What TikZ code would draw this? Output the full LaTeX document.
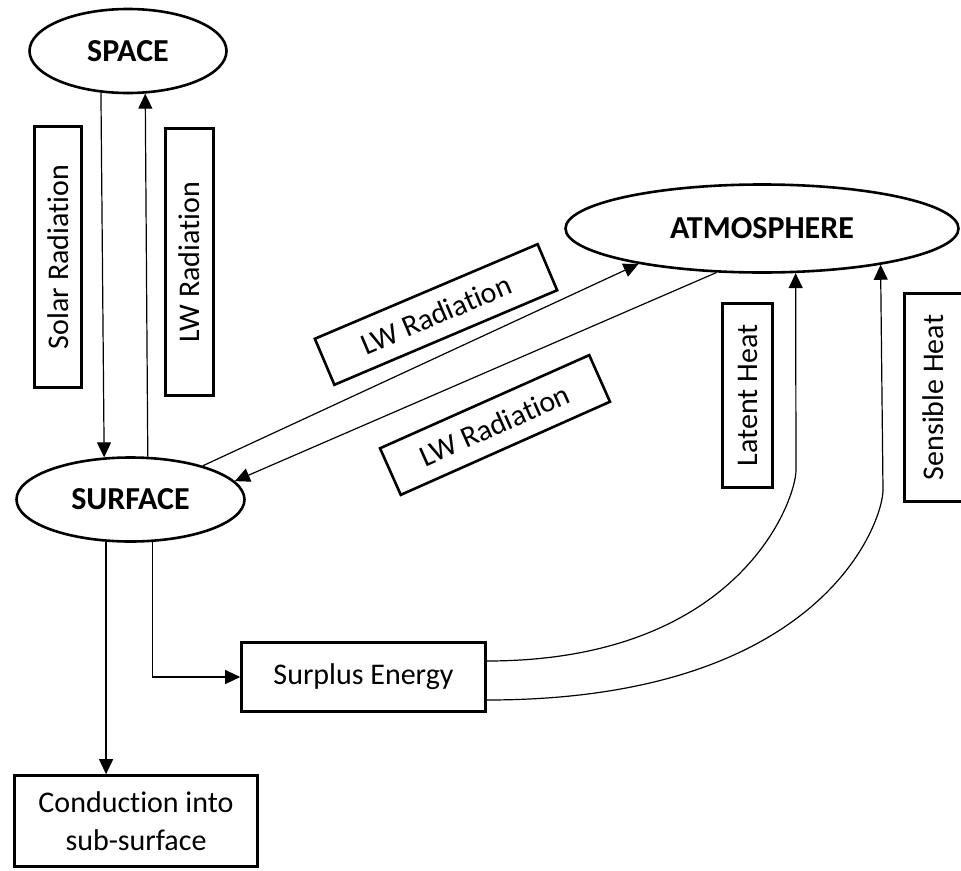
\documentclass[tikz,border=0pt]{standalone}
\usepackage{fontspec}
\setmainfont{Carlito}[Ligatures={TeX,NoCommon}]
\usetikzlibrary{arrows.meta,shapes.geometric}
\begin{document}
\begin{tikzpicture}[x=1pt,y=-1pt,
  ell/.style={ellipse,draw,line width=2.6pt,inner sep=0pt,font=\fontsize{32}{38}\selectfont\bfseries},
  bx/.style={rectangle,draw,line width=2.6pt,inner sep=0pt,font=\fontsize{30}{38}\selectfont,align=center},
  arr/.style={line width=1.2pt,-{Triangle[length=15pt,width=14pt]}}]
\useasboundingbox (0,0) rectangle (961,870);
% ellipses
\node[ell,minimum width=197pt,minimum height=84pt] (space) at (128,51) {SPACE};
\node[ell,minimum width=393pt,minimum height=88pt] (atmo) at (762,228.5) {ATMOSPHERE};
\node[ell,minimum width=228pt,minimum height=84pt] (surface) at (130.5,499.5) {SURFACE};
% label boxes
\node[bx,rotate=90,minimum width=261pt,minimum height=47pt] (solar) at (58,257) {Solar Radiation};
\node[bx,rotate=90,minimum width=267pt,minimum height=48pt] (lwv) at (189.5,262) {LW Radiation};
\node[bx,rotate=23,minimum width=242pt,minimum height=50pt] (lwu) at (436,314.5) {LW Radiation};
\node[bx,rotate=24,minimum width=229pt,minimum height=51pt] (lwd) at (495,425) {LW Radiation};
\node[bx,rotate=90,minimum width=184pt,minimum height=50pt] (latent) at (747.5,395.5) {Latent Heat};
\node[bx,rotate=90,minimum width=208pt,minimum height=58pt] (sensible) at (933.5,397.5) {Sensible Heat};
\node[bx,minimum width=244pt,minimum height=69pt] (surplus) at (363.5,677) {Surplus Energy};
\node[bx,minimum width=243pt,minimum height=91pt] (cond) at (136,821) {Conduction into\\sub-surface};
% connectors
\draw[arr] (space.237) -- (surface.122);
\draw[arr] (surface.68) -- (space.292);
\draw[arr] (surface.25.6) -- (atmo.196.4);
\draw[arr] (atmo.224.5) -- (surface.10);
\draw[arr] (surface.240) -- (surface.240 |- cond.north);
\draw[arr] (surface.297) |- (surplus.west);
\draw[arr] ([yshift=16pt]surplus.east) .. controls (740,661) and (796,500) .. (796,470) -- (atmo.307);
\draw[arr] ([yshift=-23pt]surplus.east) .. controls (824,700) and (883,521) .. (883,490) -- (atmo.343);
\end{tikzpicture}
\end{document}
